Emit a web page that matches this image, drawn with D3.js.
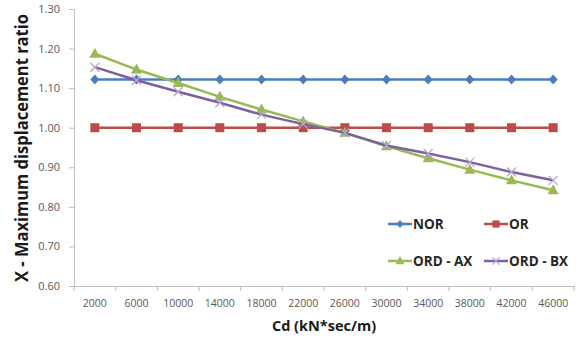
<!DOCTYPE html>
<html>
<head>
<meta charset="utf-8">
<script src="https://cdn.jsdelivr.net/npm/d3@7"></script>
<style>
  body { margin: 0; background: #fff; }
  text { font-family: "Open Sans", "Liberation Sans", sans-serif; }
</style>
</head>
<body>
<div id="chart"></div>
<script>
    'use strict';

    // chart values
    var categories = [2000, 6000, 10000, 14000, 18000, 22000, 26000, 30000, 34000, 38000, 42000, 46000];
    var yTicks = [0.60, 0.70, 0.80, 0.90, 1.00, 1.10, 1.20, 1.30];
    var norValues = [1.122, 1.122, 1.122, 1.122, 1.122, 1.122, 1.122, 1.122, 1.122, 1.122, 1.122, 1.122];
    var orValues = [1.00, 1.00, 1.00, 1.00, 1.00, 1.00, 1.00, 1.00, 1.00, 1.00, 1.00, 1.00];
    var ordAxValues = [1.187, 1.147, 1.113, 1.078, 1.046, 1.016, 0.987, 0.953, 0.923, 0.894, 0.867, 0.842];
    var ordBxValues = [1.153, 1.120, 1.091, 1.063, 1.033, 1.009, 0.987, 0.955, 0.935, 0.913, 0.888, 0.867];
    var seriesNames = ['NOR', 'OR', 'ORD - AX', 'ORD - BX'];

    (function () {
    var width = 582, height = 338;
    var plotLeft = 74, plotRight = 574, plotTop = 9, plotBottom = 286;

    var svg = d3.select('#chart')
        .append('svg')
        .attr('width', width)
        .attr('height', height);

    var x = d3.scaleBand()
        .domain(categories)
        .range([plotLeft, plotRight]);

    var y = d3.scaleLinear()
        .domain([0.6, 1.3])
        .range([plotBottom, plotTop]);

    // y axis
    var yAxis = svg.append('g')
        .attr('transform', 'translate(' + plotLeft + ',0)')
        .call(d3.axisLeft(y).tickValues(yTicks).tickFormat(d3.format('.2f')).tickSizeOuter(0).tickSize(5));
    yAxis.select('.domain').attr('stroke', '#bfbfbf');
    yAxis.selectAll('.tick line').attr('stroke', '#bfbfbf');
    yAxis.selectAll('.tick text')
        .attr('fill', '#595959')
        .attr('font-size', 11)
        .attr('x', -14);

    // x axis, ticks at category boundaries
    var xAxis = svg.append('g')
        .attr('transform', 'translate(0,' + plotBottom + ')')
        .call(d3.axisBottom(x).tickSize(0).tickSizeOuter(0));
    xAxis.select('.domain').attr('stroke', '#bfbfbf');
    xAxis.selectAll('.tick text')
        .attr('fill', '#595959')
        .attr('font-size', 10.5)
        .attr('dy', '0')
        .attr('y', 21);
    xAxis.selectAll('line.bound')
        .data(d3.range(categories.length + 1))
        .enter()
        .append('line')
        .attr('class', 'bound')
        .attr('x1', function(i) { return plotLeft + i * x.bandwidth(); })
        .attr('x2', function(i) { return plotLeft + i * x.bandwidth(); })
        .attr('y1', 0)
        .attr('y2', 5)
        .attr('stroke', '#bfbfbf');

    // axis titles
    svg.append('text')
        .attr('x', (plotLeft + plotRight) / 2)
        .attr('y', 331)
        .attr('text-anchor', 'middle')
        .attr('font-size', 14.5)
        .attr('font-weight', 'bold')
        .attr('fill', '#1a1a1a')
        .text('Cd (kN*sec/m)');

    svg.append('text')
        .attr('transform', 'translate(28,148) rotate(-90)')
        .attr('text-anchor', 'middle')
        .attr('font-size', 17)
        .attr('font-weight', 'bold')
        .attr('fill', '#1a1a1a')
        .attr('textLength', 268)
        .attr('lengthAdjust', 'spacingAndGlyphs')
        .text('X - Maximum displacement ratio');

    var series = [
        {name: seriesNames[0], values: norValues, color: '#4a7ebb', marker: 'diamond'},
        {name: seriesNames[1], values: orValues, color: '#be4b48', marker: 'square'},
        {name: seriesNames[2], values: ordAxValues, color: '#98b954', marker: 'triangle'},
        {name: seriesNames[3], values: ordBxValues, color: '#7d60a0', marker: 'cross'}
    ];

    function cx(i) { return x(categories[i]) + x.bandwidth() / 2; }

    function drawMarker(g, type, color, px, py, s) {
        s = s || 1;
        if (type === 'diamond') {
            g.append('path')
                .attr('d', 'M' + px + ',' + (py - 5 * s) + 'L' + (px + 4.5 * s) + ',' + py + 'L' + px + ',' + (py + 5 * s) + 'L' + (px - 4.5 * s) + ',' + py + 'Z')
                .attr('fill', color);
        } else if (type === 'square') {
            g.append('rect')
                .attr('x', px - 4.5 * s).attr('y', py - 4.5 * s)
                .attr('width', 9 * s).attr('height', 9 * s)
                .attr('fill', color);
        } else if (type === 'triangle') {
            g.append('path')
                .attr('d', 'M' + px + ',' + (py - 6 * s) + 'L' + (px + 5.5 * s) + ',' + (py + 4 * s) + 'L' + (px - 5.5 * s) + ',' + (py + 4 * s) + 'Z')
                .attr('fill', color);
        } else {
            var r = 4.5 * s;
            g.append('path')
                .attr('d', 'M' + (px - r) + ',' + (py - r) + 'L' + (px + r) + ',' + (py + r) + 'M' + (px + r) + ',' + (py - r) + 'L' + (px - r) + ',' + (py + r))
                .attr('stroke', '#b9a7d0')
                .attr('stroke-width', 1.3)
                .attr('fill', 'none');
        }
    }

    var line = d3.line()
        .x(function(d, i) { return cx(i); })
        .y(function(d) { return y(d); });

    series.forEach(function(s) {
        var g = svg.append('g');
        g.append('path')
            .datum(s.values)
            .attr('d', line)
            .attr('fill', 'none')
            .attr('stroke', s.color)
            .attr('stroke-width', 2.5);
        s.values.forEach(function(v, i) {
            drawMarker(g, s.marker, s.color, cx(i), y(v));
        });
    });

    // legend
    var legendPos = [
        {x: 388, y: 224}, {x: 484, y: 224},
        {x: 388, y: 261}, {x: 484, y: 261}
    ];
    series.forEach(function(s, i) {
        var p = legendPos[i];
        var g = svg.append('g');
        g.append('line')
            .attr('x1', p.x).attr('x2', p.x + 24)
            .attr('y1', p.y).attr('y2', p.y)
            .attr('stroke', s.color)
            .attr('stroke-width', 2.5);
        drawMarker(g, s.marker, s.color, p.x + 12, p.y, 0.8);
        g.append('text')
            .attr('x', p.x + 25)
            .attr('y', p.y + 5)
            .attr('font-size', 13.5)
            .attr('font-weight', 'bold')
            .attr('fill', '#262626')
            .text(s.name);
    });
    })();
</script>
</body>
</html>
